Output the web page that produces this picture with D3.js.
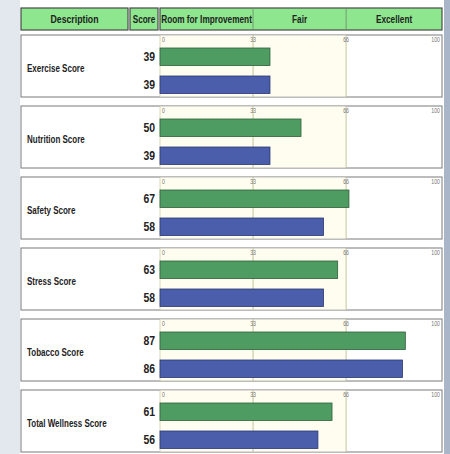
<!DOCTYPE html>
<html>
<head>
<meta charset="utf-8">
<script src="https://cdn.jsdelivr.net/npm/d3@7"></script>
<style>
  html, body { margin: 0; padding: 0; background: #fff; }
  text { font-family: "Liberation Sans", Arial, sans-serif; }
</style>
</head>
<body>
<div id="Canvas"></div>
<script>
// data
const categories = ["Exercise Score", "Nutrition Score", "Safety Score", "Stress Score", "Tobacco Score", "Total Wellness Score"]
const currentScores = [39, 50, 67, 63, 87, 61]
const previousScores = [39, 39, 58, 58, 86, 56]
const tickValues = [0, 33, 66, 100]
const headerBands = ["Room for Improvement", "Fair", "Excellent"]

const W = 450, H = 454

let svg = d3.select("#Canvas")
    .append("svg")
    .attr("width", W)
    .attr("height", H)

// no narrow font installed, so squeeze text horizontally
function narrowText(sel, x, y, k) {
    k = k || 0.8
    return sel.attr("transform", function(d, i) {
        let xx = typeof x === "function" ? x(d, i) : x
        let yy = typeof y === "function" ? y(d, i) : y
        return "translate(" + xx + "," + yy + ") scale(" + k + ",1)"
    })
}

// page background strips
svg.append("rect").attr("x", 0).attr("y", 0).attr("width", W).attr("height", H).attr("fill", "#ffffff")
svg.append("rect").attr("x", 0).attr("y", 0).attr("width", 20).attr("height", H).attr("fill", "#e3e7ee")
svg.append("rect").attr("x", 444).attr("y", 0).attr("width", 6).attr("height", H).attr("fill", "#a9b5c9")

let X = d3.scaleLinear().domain([0, 100]).range([160, 442])

// header
let head = svg.append("g").attr("class", "header")
const hy = 8, hh = 22
head.append("rect").attr("x", 21).attr("y", hy).attr("width", 107).attr("height", hh)
    .attr("fill", "#8ee68e").attr("stroke", "#4a4a4a").attr("stroke-width", 1.2)
head.append("rect").attr("x", 130).attr("y", hy).attr("width", 28).attr("height", hh)
    .attr("fill", "#8ee68e").attr("stroke", "#4a4a4a").attr("stroke-width", 1.2)
head.append("rect").attr("x", X(0)).attr("y", hy).attr("width", X(100) - X(0)).attr("height", hh)
    .attr("fill", "#8ee68e").attr("stroke", "#4a4a4a").attr("stroke-width", 1.2)
head.selectAll("line.sep").data([33, 66]).enter().append("line")
    .attr("x1", d => X(d)).attr("x2", d => X(d)).attr("y1", hy).attr("y2", hy + hh)
    .attr("stroke", "#6a8a6a").attr("stroke-width", 0.8)
narrowText(head.append("text"), 74.5, hy + 15, 0.76).attr("text-anchor", "middle")
    .style("font-size", "11.5px").style("font-weight", "bold").attr("fill", "#222").text("Description")
narrowText(head.append("text"), 144, hy + 15, 0.74).attr("text-anchor", "middle")
    .style("font-size", "11px").style("font-weight", "bold").attr("fill", "#222").text("Score")
let bandEdges = [0, 33, 66, 100]
narrowText(head.selectAll("text.band").data(headerBands).enter().append("text"),
        (d, i) => (X(bandEdges[i]) + X(bandEdges[i + 1])) / 2, hy + 15, 0.75)
    .attr("class", "band")
    .attr("text-anchor", "middle")
    .style("font-size", "11px").style("font-weight", "bold").attr("fill", "#222")
    .text(d => d)

// panels
let Y = d3.scaleBand().domain(categories).range([35, 452]).paddingInner(9 / 71).paddingOuter(0)
let S = d3.scaleBand().domain(["current", "previous"]).range([13, 58.5]).paddingInner(0.375).paddingOuter(0)

let rows = categories.map((c, i) => ({ name: c, current: currentScores[i], previous: previousScores[i] }))

let panel = svg.selectAll("g.panel").data(rows).enter().append("g")
    .attr("class", "panel")
    .attr("transform", d => "translate(0," + Y(d.name) + ")")

const ph = Y.bandwidth()
panel.append("rect").attr("x", 21).attr("y", 0).attr("width", 421).attr("height", ph)
    .attr("fill", "#ffffff").attr("stroke", "#7a7a7a").attr("stroke-width", 1)
// faint cream plot background
panel.append("rect").attr("x", X(0)).attr("y", 0.5).attr("width", X(66) - X(0)).attr("height", ph - 1)
    .attr("fill", "#fefdf0")
panel.append("line").attr("x1", X(0)).attr("x2", X(0)).attr("y1", 0).attr("y2", ph)
    .attr("stroke", "#d2cda8").attr("stroke-width", 0.8)
panel.selectAll("line.grid").data([33, 66]).enter().append("line")
    .attr("class", "grid")
    .attr("x1", d => X(d)).attr("x2", d => X(d)).attr("y1", 0).attr("y2", ph)
    .attr("stroke", "#c2bd92").attr("stroke-width", 0.9)
narrowText(panel.selectAll("text.tick").data(tickValues).enter().append("text"),
        d => d === 0 ? X(d) + 2 : (d === 100 ? X(d) - 2 : X(d)), 7)
    .attr("class", "tick")
    .attr("text-anchor", d => d === 0 ? "start" : (d === 100 ? "end" : "middle"))
    .style("font-size", "6.5px").attr("fill", "#777")
    .text(d => d)

narrowText(panel.append("text"), 27, ph / 2 + 6)
    .style("font-size", "10px").style("font-weight", "bold").attr("fill", "#222")
    .text(d => d.name)

const colors = { current: "#4f9c63", previous: "#4a5eab" }
const strokes = { current: "#2f5f3a", previous: "#2b3770" }
;["current", "previous"].forEach(k => {
    panel.append("rect")
        .attr("x", X(0))
        .attr("y", S(k))
        .attr("width", d => X(d[k]) - X(0))
        .attr("height", S.bandwidth())
        .attr("fill", colors[k]).attr("stroke", strokes[k]).attr("stroke-width", 0.8)
    narrowText(panel.append("text"), 155, S(k) + S.bandwidth() / 2 + 4.5)
        .attr("text-anchor", "end")
        .style("font-size", "13px").style("font-weight", "bold").attr("fill", "#222")
        .text(d => d[k])
})
</script>
</body>
</html>
